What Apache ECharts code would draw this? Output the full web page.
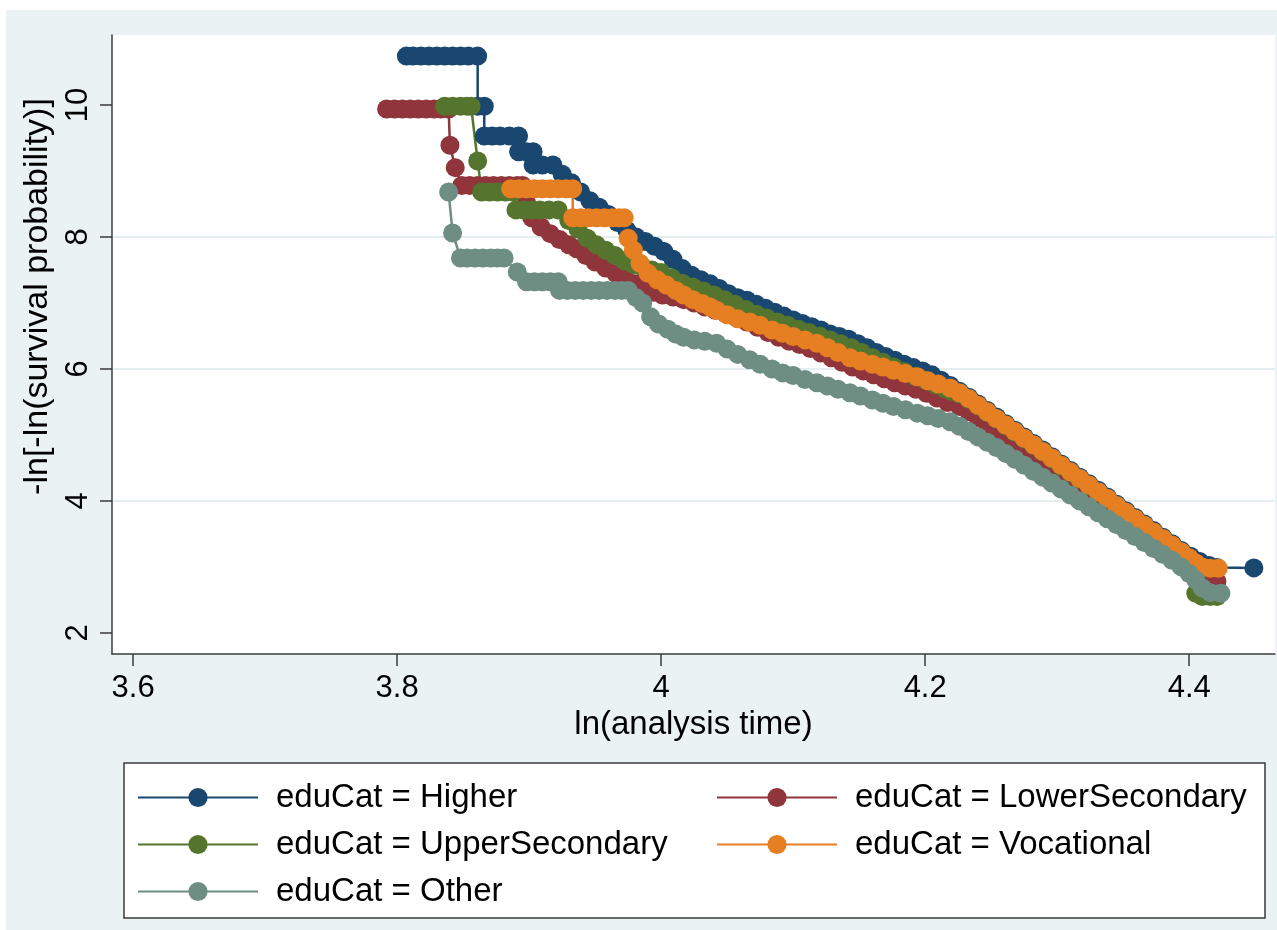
<!DOCTYPE html>
<html>
<head>
<meta charset="utf-8">
<script src="https://cdn.jsdelivr.net/npm/echarts@6/dist/echarts.min.js"></script>
<style>
html,body{margin:0;padding:0;background:#fff;}
#c{position:absolute;left:6px;top:10px;width:1271px;height:920px;}
</style>
</head>
<body>
<div id="c"></div>
<script>
const categories = ['Higher', 'LowerSecondary', 'UpperSecondary', 'Vocational', 'Other'];
const colors = ['#1a476f', '#90353b', '#55752f', '#e67e22', '#6e8e84'];
const xTicks = [3.6, 3.8, 4, 4.2, 4.4];
const yTicks = [2, 4, 6, 8, 10];

const higher = [
[3.807,10.74],[3.812,10.74],[3.818,10.74],[3.824,10.74],[3.830,10.74],[3.836,10.74],[3.842,10.74],[3.848,10.74],[3.854,10.74],[3.861,10.74],
[3.861,9.98],[3.866,9.98],
[3.866,9.53],[3.872,9.53],[3.878,9.53],[3.885,9.53],[3.892,9.53],
[3.892,9.29],[3.898,9.29],[3.903,9.29],
[3.903,9.09],[3.910,9.09],[3.918,9.09],
[3.925,8.95],[3.932,8.82],[3.939,8.68],[3.946,8.55],[3.953,8.45],[3.960,8.34],[3.967,8.22],[3.974,8.10],[3.981,8.00],[3.988,7.93],
[3.995,7.86],[4.002,7.78],[4.009,7.66],[4.016,7.52],[4.023,7.42],[4.030,7.35],[4.037,7.29],[4.044,7.22],[4.051,7.14],[4.058,7.08],
[4.065,7.04],[4.072,6.98],[4.079,6.92],[4.086,6.86],[4.093,6.80],[4.100,6.74],[4.107,6.69],[4.114,6.64],[4.121,6.59],[4.128,6.53],
[4.135,6.49],[4.142,6.45],[4.149,6.38],[4.156,6.32],[4.163,6.25],[4.170,6.19],[4.177,6.13],[4.184,6.07],[4.191,6.02],[4.198,5.97],
[4.205,5.91],[4.212,5.83],[4.219,5.75],[4.226,5.66],[4.233,5.57],[4.240,5.47],[4.247,5.37],[4.254,5.27],[4.261,5.17],[4.268,5.07],
[4.275,4.97],[4.282,4.87],[4.289,4.77],[4.296,4.67],[4.303,4.56],[4.310,4.46],[4.317,4.36],[4.324,4.26],[4.331,4.16],[4.338,4.06],
[4.345,3.95],[4.352,3.85],[4.359,3.75],[4.366,3.65],[4.373,3.55],[4.380,3.45],[4.387,3.35],[4.394,3.25],[4.401,3.16],[4.408,3.08],
[4.415,3.02],[4.421,2.99],[4.449,2.985]
];

const lowerSecondary = [
[3.792,9.94],[3.798,9.94],[3.804,9.94],[3.810,9.94],[3.816,9.94],[3.822,9.94],[3.828,9.94],[3.833,9.94],[3.839,9.94],
[3.840,9.39],[3.844,9.05],
[3.849,8.78],[3.855,8.78],[3.861,8.78],[3.867,8.78],[3.873,8.78],[3.879,8.78],[3.885,8.78],[3.891,8.78],[3.895,8.78],
[3.898,8.52],[3.902,8.29],[3.909,8.15],[3.916,8.05],[3.923,7.96],[3.930,7.88],[3.936,7.82],[3.943,7.72],[3.950,7.62],[3.958,7.53],
[3.966,7.44],[3.973,7.36],[3.980,7.29],[3.987,7.22],[3.994,7.16],[4.001,7.12],[4.009,7.09],[4.017,7.05],[4.025,7.00],[4.033,6.94],
[4.041,6.89],[4.049,6.84],[4.057,6.78],[4.065,6.71],[4.073,6.63],[4.081,6.55],[4.089,6.48],[4.097,6.42],[4.105,6.37],[4.113,6.31],
[4.121,6.24],[4.129,6.17],[4.137,6.10],[4.145,6.03],[4.153,5.97],[4.161,5.91],[4.169,5.85],[4.177,5.79],[4.185,5.74],[4.193,5.69],
[4.201,5.63],[4.209,5.56],[4.217,5.49],[4.226,5.43],[4.233,5.35],[4.240,5.26],[4.247,5.17],[4.254,5.08],[4.261,4.99],[4.268,4.90],
[4.275,4.80],[4.282,4.71],[4.289,4.61],[4.296,4.51],[4.303,4.41],[4.310,4.31],[4.317,4.21],[4.324,4.11],[4.331,4.01],[4.338,3.91],
[4.345,3.81],[4.352,3.71],[4.359,3.61],[4.366,3.51],[4.373,3.41],[4.380,3.31],[4.387,3.21],[4.394,3.11],[4.400,3.01],[4.405,2.92],
[4.410,2.84],[4.416,2.78],[4.421,2.78]
];

const upperSecondary = [
[3.836,9.98],[3.842,9.98],[3.848,9.98],[3.853,9.98],[3.856,9.98],
[3.861,9.15],
[3.864,8.68],[3.870,8.68],[3.876,8.68],[3.882,8.68],[3.888,8.68],
[3.890,8.41],[3.896,8.41],[3.902,8.41],[3.908,8.41],[3.915,8.41],[3.922,8.41],
[3.930,8.25],[3.937,8.12],[3.944,7.98],[3.951,7.88],[3.958,7.80],[3.965,7.72],[3.972,7.64],[3.979,7.58],[3.986,7.54],[3.993,7.50],
[4.000,7.46],[4.008,7.38],[4.016,7.30],[4.024,7.24],[4.032,7.18],[4.040,7.12],[4.048,7.05],[4.056,6.98],[4.064,6.90],[4.072,6.83],
[4.080,6.77],[4.088,6.71],[4.096,6.66],[4.104,6.60],[4.112,6.55],[4.120,6.50],[4.128,6.44],[4.136,6.38],[4.144,6.32],[4.152,6.25],
[4.160,6.17],[4.168,6.10],[4.176,6.03],[4.184,5.96],[4.192,5.89],[4.200,5.83],[4.208,5.76],[4.215,5.70],[4.220,5.66],[4.226,5.62],
[4.233,5.54],[4.240,5.44],[4.247,5.34],[4.254,5.24],[4.261,5.14],[4.268,5.04],[4.275,4.94],[4.282,4.84],[4.289,4.74],[4.296,4.64],
[4.303,4.53],[4.310,4.43],[4.317,4.33],[4.324,4.23],[4.331,4.13],[4.338,4.03],[4.345,3.92],[4.352,3.82],[4.359,3.72],[4.366,3.62],
[4.373,3.52],[4.380,3.42],[4.387,3.32],[4.394,3.21],[4.400,3.08],[4.405,2.85],[4.405,2.60],[4.410,2.55],[4.416,2.55],[4.421,2.55]
];

const vocational = [
[3.886,8.73],[3.892,8.73],[3.898,8.73],[3.904,8.73],[3.910,8.73],[3.916,8.73],[3.922,8.73],[3.928,8.73],[3.933,8.73],
[3.933,8.29],[3.939,8.29],[3.945,8.29],[3.951,8.29],[3.957,8.29],[3.963,8.29],[3.968,8.29],[3.972,8.29],
[3.975,7.98],[3.979,7.80],[3.984,7.60],[3.990,7.45],[3.997,7.35],[4.004,7.27],[4.011,7.19],[4.017,7.12],[4.024,7.05],[4.031,6.99],
[4.037,6.94],[4.042,6.89],[4.050,6.82],[4.058,6.76],[4.067,6.71],[4.075,6.66],[4.084,6.59],[4.092,6.54],[4.100,6.49],[4.109,6.44],
[4.118,6.39],[4.126,6.32],[4.134,6.25],[4.143,6.17],[4.151,6.12],[4.160,6.07],[4.168,6.03],[4.176,5.98],[4.185,5.93],[4.194,5.88],
[4.202,5.82],[4.210,5.77],[4.219,5.71],[4.226,5.64],[4.233,5.55],[4.240,5.45],[4.247,5.35],[4.254,5.25],[4.261,5.15],[4.268,5.05],
[4.275,4.95],[4.282,4.85],[4.289,4.75],[4.296,4.65],[4.303,4.54],[4.310,4.44],[4.317,4.34],[4.324,4.24],[4.331,4.14],[4.338,4.04],
[4.345,3.93],[4.352,3.83],[4.359,3.73],[4.366,3.63],[4.373,3.53],[4.380,3.43],[4.387,3.33],[4.394,3.23],[4.400,3.14],[4.405,3.06],
[4.410,3.00],[4.416,2.98],[4.422,2.98]
];

const other = [
[3.839,8.68],[3.842,8.06],
[3.848,7.68],[3.853,7.68],[3.859,7.68],[3.865,7.68],[3.871,7.68],[3.876,7.68],[3.881,7.68],
[3.891,7.47],
[3.898,7.32],[3.904,7.32],[3.910,7.32],[3.916,7.32],[3.922,7.32],
[3.923,7.19],[3.929,7.19],[3.935,7.19],[3.941,7.19],[3.947,7.19],[3.953,7.19],[3.959,7.19],[3.965,7.19],[3.970,7.19],[3.975,7.19],
[3.981,7.08],[3.986,7.00],[3.992,6.79],[3.998,6.68],[4.005,6.60],[4.011,6.53],[4.017,6.48],[4.025,6.44],[4.033,6.42],[4.042,6.39],
[4.050,6.30],[4.058,6.22],[4.067,6.14],[4.075,6.07],[4.084,6.00],[4.092,5.94],[4.100,5.90],[4.109,5.84],[4.118,5.79],[4.126,5.74],
[4.134,5.69],[4.143,5.64],[4.151,5.59],[4.160,5.53],[4.168,5.48],[4.176,5.43],[4.185,5.38],[4.194,5.33],[4.202,5.29],[4.210,5.25],
[4.219,5.20],[4.226,5.13],[4.233,5.05],[4.240,4.97],[4.247,4.89],[4.254,4.81],[4.261,4.72],[4.268,4.63],[4.275,4.54],[4.282,4.45],
[4.289,4.36],[4.296,4.27],[4.303,4.18],[4.310,4.09],[4.317,4.00],[4.324,3.91],[4.331,3.82],[4.338,3.73],[4.345,3.64],[4.352,3.55],
[4.359,3.46],[4.366,3.37],[4.373,3.28],[4.380,3.19],[4.387,3.10],[4.394,3.00],[4.400,2.90],[4.405,2.80],[4.410,2.68],[4.416,2.61],
[4.424,2.60]
];

const seriesData = [higher, lowerSecondary, upperSecondary, vocational, other];
const FONT = "'Liberation Sans', Arial, Helvetica, sans-serif";

const chart = echarts.init(document.getElementById('c'), null, {renderer: 'canvas'});
chart.setOption({
  backgroundColor: '#eaf2f3',
  animation: false,
  textStyle: {fontFamily: FONT},
  grid: {left: 106, top: 25, width: 1163, height: 619, show: true, backgroundColor: '#ffffff', borderWidth: 0, containLabel: false},
  xAxis: {
    type: 'value', min: 3.584, max: 4.465,
    name: 'ln(analysis time)', nameLocation: 'middle', nameGap: 49,
    nameTextStyle: {fontSize: 33, color: '#000', fontFamily: FONT},
    axisLine: {show: true, onZero: false, lineStyle: {color: '#3c3c3c', width: 1.5}},
    axisTick: {show: true, length: 12, customValues: xTicks, lineStyle: {color: '#3c3c3c', width: 1.5}},
    axisLabel: {customValues: xTicks, fontSize: 31, color: '#000', margin: 19, fontFamily: FONT},
    splitLine: {show: false}
  },
  yAxis: {
    type: 'value', min: 1.68, max: 11.06,
    name: '-ln[-ln(survival probability)]', nameLocation: 'middle', nameGap: 45, nameRotate: 90,
    nameTextStyle: {fontSize: 34, color: '#000', fontFamily: FONT, padding: [0, 0, 0, 96]},
    axisLine: {show: true, onZero: false, lineStyle: {color: '#3c3c3c', width: 1.5}},
    axisTick: {show: true, length: 12, customValues: yTicks, lineStyle: {color: '#3c3c3c', width: 1.5}},
    axisLabel: {customValues: yTicks, fontSize: 31, color: '#000', rotate: 90, margin: 18, fontFamily: FONT},
    splitLine: {show: true, showMinLine: false, showMaxLine: false, lineStyle: {color: '#e4eef1', width: 2}}
  },
  legend: {
    left: 131, top: 764, orient: 'horizontal', width: 1200, itemGap: 0,
    itemWidth: 120, itemHeight: 24, padding: 0, selectedMode: false, z: 10,
    textStyle: {fontSize: 33, color: '#000', width: 440, lineHeight: 47, padding: [0, 0, 0, 13], fontFamily: FONT},
    data: categories.map(c => 'eduCat = ' + c)
  },
  graphic: [{
    type: 'rect', z: 1, silent: true,
    shape: {x: 118, y: 753, width: 1141, height: 155},
    style: {fill: '#ffffff', stroke: '#3a3a3a', lineWidth: 1.5}
  }],
  series: categories.map((c, i) => ({
    name: 'eduCat = ' + c,
    type: 'line',
    data: seriesData[i],
    color: colors[i],
    symbol: 'circle',
    symbolSize: 19,
    showSymbol: true,
    showAllSymbol: true,
    lineStyle: {width: 2.5, color: colors[i]},
    itemStyle: {color: colors[i], borderWidth: 0},
    emphasis: {disabled: true},
    clip: false
  }))
});
</script>
</body>
</html>
